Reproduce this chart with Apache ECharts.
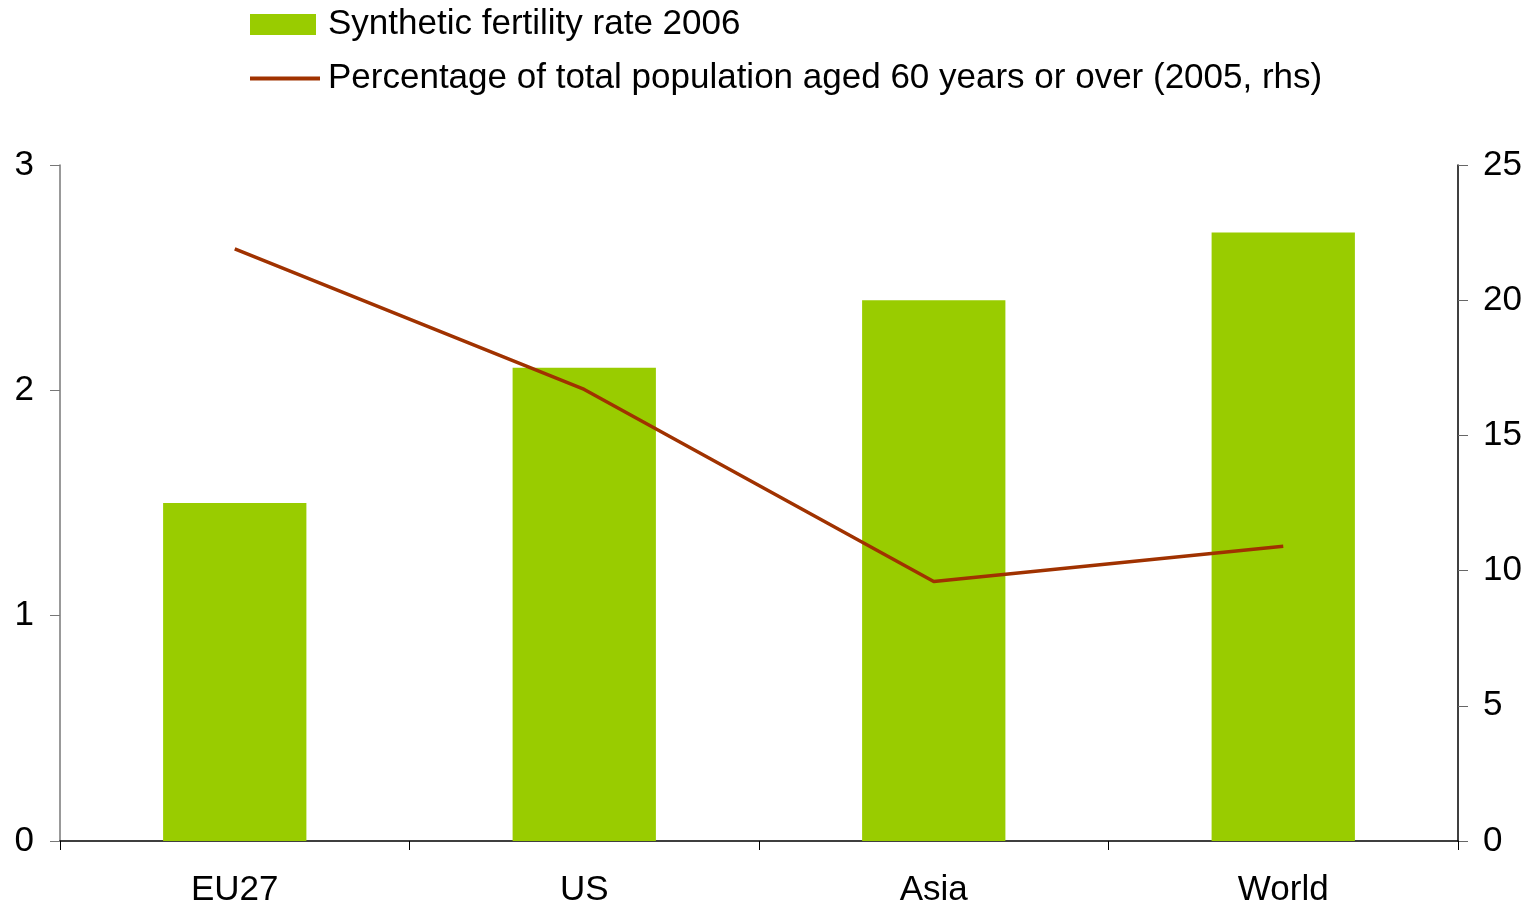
<!DOCTYPE html>
<html>
<head>
<meta charset="utf-8">
<script src="https://cdn.jsdelivr.net/npm/echarts@6/dist/echarts.min.js"></script>
<style>
  html, body { margin: 0; padding: 0; background: #fff; }
  #chart { width: 1528px; height: 908px; }
</style>
</head>
<body>
<div id="chart"></div>
<script>
// Regions compared
const categories = ['EU27', 'US', 'Asia', 'World'];
// Synthetic fertility rate, 2006 (left axis)
const fertilityRate = [1.5, 2.1, 2.4, 2.7];
// Share of population aged 60+, 2005, in % (right axis)
const aged60Share = [21.9, 16.7, 9.6, 10.9];
const leftTicks = { min: 0, max: 3, interval: 1 };
const rightTicks = { min: 0, max: 25, interval: 5 };

const barName = 'Synthetic fertility rate 2006';
const lineName = 'Percentage of total population aged 60 years or over (2005, rhs)';

const font = 'Liberation Sans, Arial, sans-serif';
const fs = 35;
const chart = echarts.init(document.getElementById('chart'));

chart.setOption({
  animation: false,
  textStyle: { fontFamily: font },
  legend: [
    {
      data: [{ name: barName, icon: 'rect' }],
      left: 245, top: 2,
      itemWidth: 66, itemHeight: 21, itemGap: 0,
      textStyle: { fontSize: fs, color: '#000', fontFamily: font, padding: [0, 0, 0, 7] }
    },
    {
      data: [{ name: lineName, icon: 'path://M0,0 L70,0 L70,4 L0,4 Z' }],
      left: 245, top: 56,
      itemWidth: 70, itemHeight: 4, itemGap: 0,
      textStyle: { fontSize: fs, color: '#000', fontFamily: font, padding: [0, 0, 0, 3] }
    }
  ],
  grid: { left: 60, right: 70, top: 165, bottom: 65, containLabel: false },
  xAxis: {
    type: 'category',
    data: categories,
    boundaryGap: true,
    axisLine: { lineStyle: { color: '#000', width: 1.5 } },
    axisTick: { show: true, alignWithLabel: false, length: 9, lineStyle: { color: '#000' } },
    axisLabel: { fontSize: fs, color: '#000', margin: 32, fontFamily: font }
  },
  yAxis: [
    {
      type: 'value',
      min: leftTicks.min, max: leftTicks.max, interval: leftTicks.interval,
      position: 'left',
      axisLine: { show: true, lineStyle: { color: '#777', width: 1.5 } },
      axisTick: { show: true, length: 10, lineStyle: { color: '#777' } },
      splitLine: { show: false },
      axisLabel: { fontSize: fs, color: '#000', margin: 26, fontFamily: font }
    },
    {
      type: 'value',
      min: rightTicks.min, max: rightTicks.max, interval: rightTicks.interval,
      position: 'right',
      axisLine: { show: true, lineStyle: { color: '#000', width: 1.5 } },
      axisTick: { show: true, length: 10, lineStyle: { color: '#666' } },
      splitLine: { show: false },
      axisLabel: { fontSize: fs, color: '#000', margin: 25, fontFamily: font }
    }
  ],
  series: [
    {
      name: barName,
      type: 'bar',
      yAxisIndex: 0,
      data: fertilityRate,
      barWidth: '41%',
      itemStyle: { color: '#99CC00' }
    },
    {
      name: lineName,
      type: 'line',
      yAxisIndex: 1,
      data: aged60Share,
      symbol: 'none',
      lineStyle: { color: '#A03200', width: 3.5 },
      itemStyle: { color: '#A03200' }
    }
  ]
});
</script>
</body>
</html>
